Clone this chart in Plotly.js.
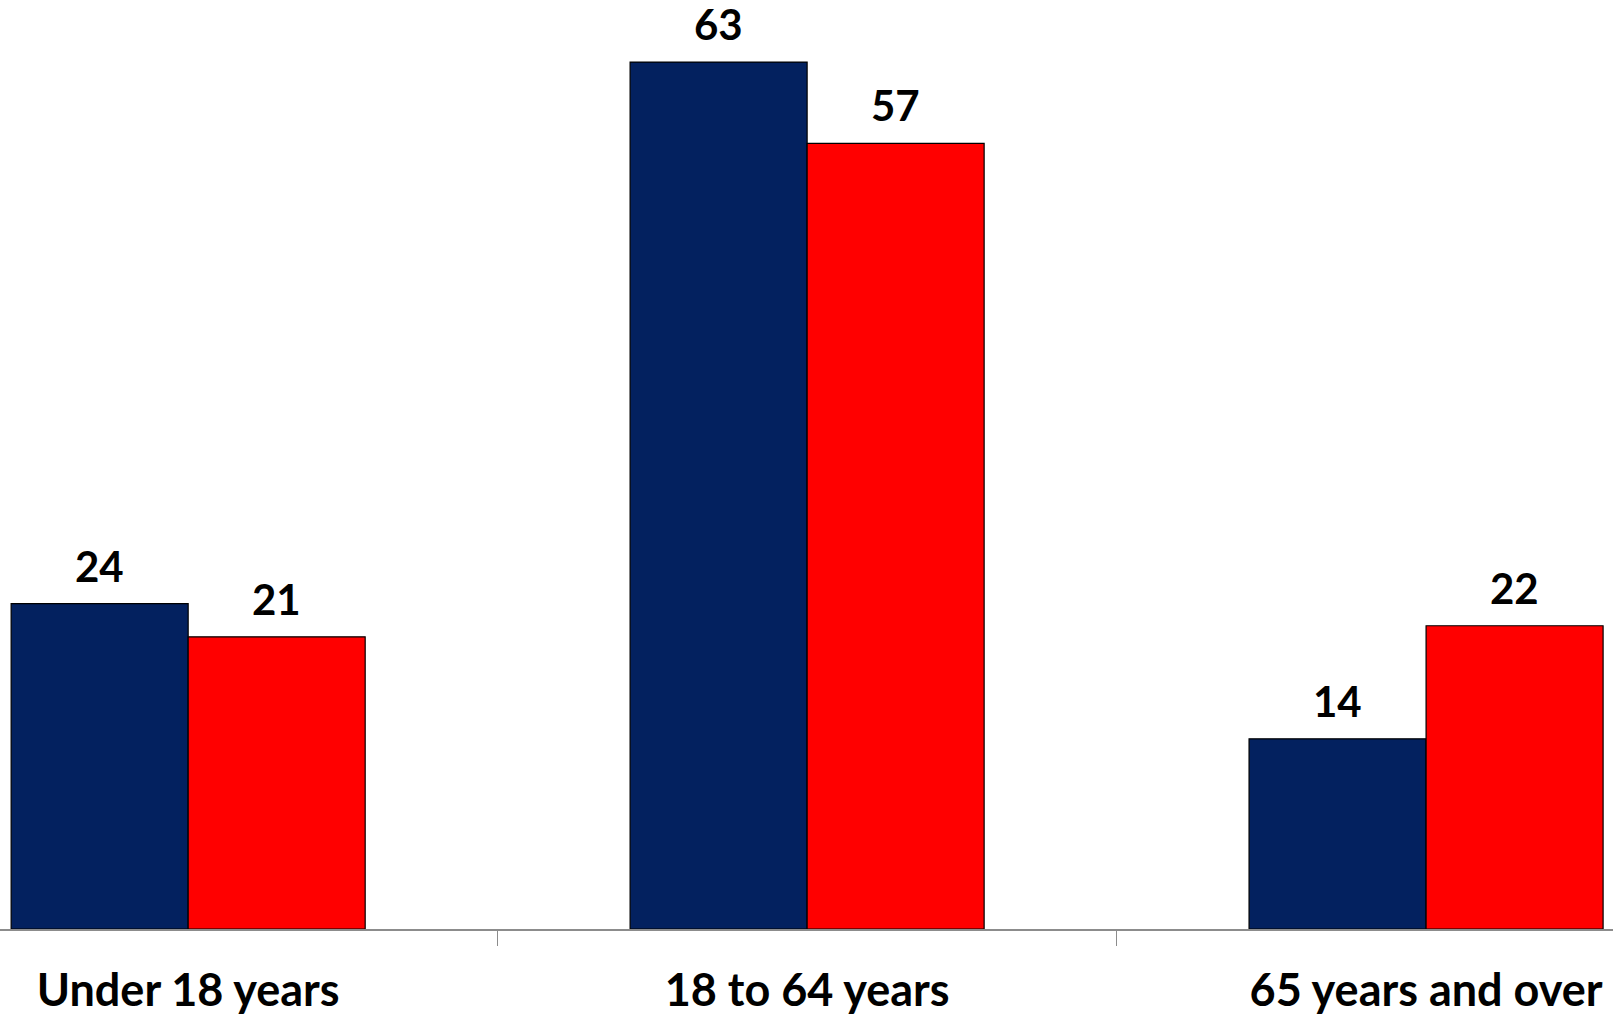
<!DOCTYPE html>
<html>
<head>
<meta charset="utf-8">
<script src="https://cdn.plot.ly/plotly-3.0.1.min.js"></script>
<style>html,body{margin:0;padding:0;background:#fff;}#chart{width:1613px;height:1023px;}</style>
</head>
<body>
<div id="chart"></div>
<script>
const categories = ["Under 18 years", "18 to 64 years", "65 years and over"];
const seriesA = [23.6, 62.9, 13.8];
const seriesB = [21.2, 57.0, 22.0];
const labelsA = ["24", "63", "14"];
const labelsB = ["21", "57", "22"];

const barGap = 0.428;
const barW = (1 - barGap) / 2;
const fontFam = "Lato, 'Open Sans', sans-serif";

const traces = [
  {type: "bar", x: categories, y: seriesA, name: "A",
   marker: {color: "#03215F", line: {color: "#000000", width: 1.2}}, hoverinfo: "skip"},
  {type: "bar", x: categories, y: seriesB, name: "B",
   marker: {color: "#FF0000", line: {color: "#000000", width: 1.2}}, hoverinfo: "skip"}
];

const annotations = [];
categories.forEach((c, i) => {
  annotations.push({x: i - barW / 2, y: seriesA[i], xref: "x", yref: "y", text: labelsA[i],
    showarrow: false, yanchor: "middle", yshift: 38, font: {family: fontFam, size: 42, color: "#000", weight: 700}});
  annotations.push({x: i + barW / 2, y: seriesB[i], xref: "x", yref: "y", text: labelsB[i],
    showarrow: false, yanchor: "middle", yshift: 38, font: {family: fontFam, size: 42, color: "#000", weight: 700}});
});

const layout = {
  width: 1613, height: 1023,
  margin: {l: 0, r: 0, t: 0, b: 94, pad: 0},
  paper_bgcolor: "#fff", plot_bgcolor: "#fff",
  barmode: "group", bargap: barGap, bargroupgap: 0,
  showlegend: false,
  xaxis: {type: "category", range: [-0.304, 2.302], showline: true, linecolor: "#8C8C8C", linewidth: 2,
    ticks: "outside", tickson: "boundaries", ticklen: 15, tickwidth: 1.5, tickcolor: "#8C8C8C",
    showgrid: false, zeroline: false, ticklabelstandoff: 21,
    tickfont: {family: fontFam, size: 45, color: "#000", weight: 700}},
  yaxis: {range: [0, 67.4], visible: false, showgrid: false, zeroline: false},
  annotations: annotations
};

Plotly.newPlot("chart", traces, layout, {staticPlot: true, displayModeBar: false});
</script>
</body>
</html>
